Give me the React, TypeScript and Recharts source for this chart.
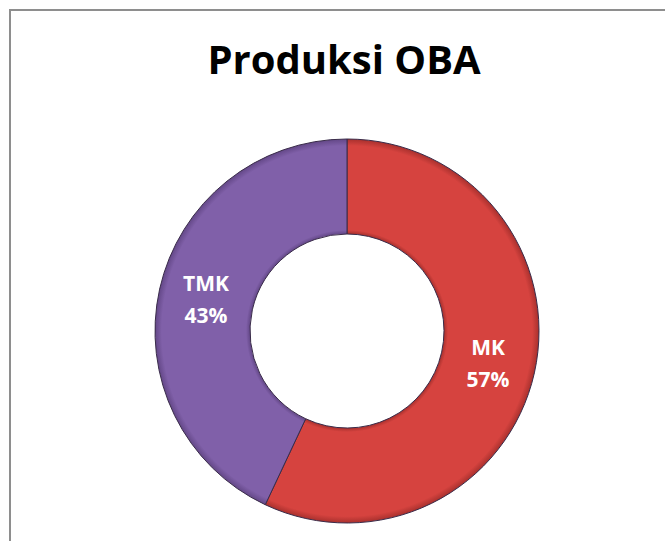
import { PieChart, Pie, Cell } from "recharts";

const categories = ["MK", "TMK"];
const shares = [57, 43];
const colors = ["#d6433f", "#8060a9"];
const edgeColors = ["#a8302d", "#634787"];

const chartData = categories.map((name, i) => ({ name, value: shares[i] }));

const CX = 347;
const CY = 331;
const INNER = 97;
const OUTER = 192;
const RAD = Math.PI / 180;

function renderLabel(props: any) {
  const { midAngle, percent, name, cx, cy } = props;
  const r = (INNER + OUTER) / 2;
  const x = cx + r * Math.cos(-midAngle * RAD);
  const y = cy + r * Math.sin(-midAngle * RAD);
  return (
    <text
      x={x}
      y={y}
      textAnchor="middle"
      fill="#ffffff"
      fontFamily="'Open Sans', sans-serif"
      fontWeight={700}
      fontSize={21}
    >
      <tspan x={x} dy={-8}>{name}</tspan>
      <tspan x={x} dy={32}>{`${Math.round(percent * 100)}%`}</tspan>
    </text>
  );
}

export default function App() {
  return (
    <div style={{ position: "absolute", left: 0, top: 0, width: 665, height: 541, background: "#fff", overflow: "hidden" }}>
      <div
        style={{
          position: "absolute",
          left: 9,
          top: 9,
          width: 700,
          height: 600,
          borderTop: "2px solid #8e8e8e",
          borderLeft: "2px solid #8e8e8e",
        }}
      />
      <div
        style={{
          position: "absolute",
          left: 0,
          top: 32,
          width: 688,
          textAlign: "center",
          fontFamily: "'Open Sans', sans-serif",
          fontWeight: 700,
          fontSize: 40,
          lineHeight: "54px",
          color: "#000",
        }}
      >
        Produksi OBA
      </div>
      <div style={{ position: "absolute", left: 0, top: 0 }}>
        <PieChart width={665} height={541} margin={{ top: 0, right: 0, bottom: 0, left: 0 }}>
          <defs>
            {colors.map((c, i) => (
              <radialGradient key={c} id={`bevel${i}`} cx={CX} cy={CY} r={OUTER} gradientUnits="userSpaceOnUse">
                <stop offset={INNER / OUTER} stopColor={edgeColors[i]} />
                <stop offset={(INNER + 4) / OUTER} stopColor={c} />
                <stop offset={0.965} stopColor={c} />
                <stop offset={1} stopColor={edgeColors[i]} />
              </radialGradient>
            ))}
          </defs>
          <Pie
            data={chartData}
            dataKey="value"
            nameKey="name"
            cx={CX}
            cy={CY}
            innerRadius={INNER}
            outerRadius={OUTER}
            startAngle={90}
            endAngle={-270}
            stroke="#3a2c4a"
            strokeWidth={1}
            label={renderLabel}
            labelLine={false}
            isAnimationActive={false}
          >
            {chartData.map((d, i) => (
              <Cell key={d.name} fill={`url(#bevel${i})`} />
            ))}
          </Pie>
        </PieChart>
      </div>
    </div>
  );
}
